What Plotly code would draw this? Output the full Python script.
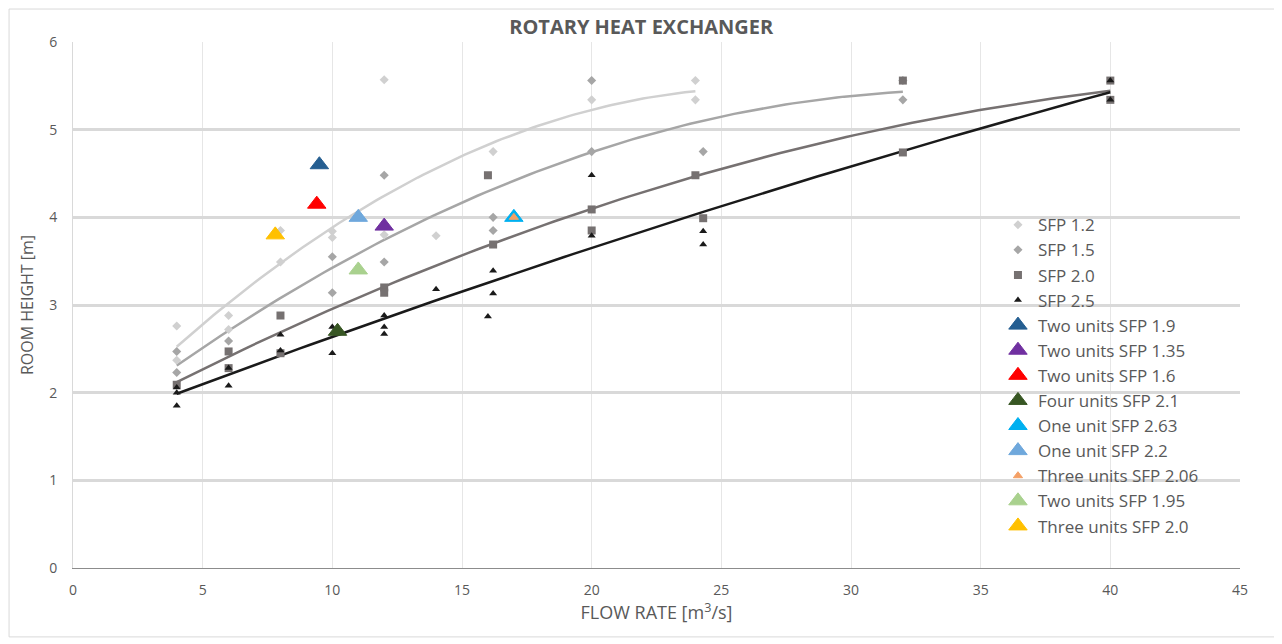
import numpy as np
import plotly.graph_objects as go

# reference series (flow rate m3/s, room height m)
sfp12_x = [4, 4, 6, 6, 8, 8, 10, 10, 12, 12, 14, 16.2, 20, 24, 24]
sfp12_y = [2.76, 2.37, 2.88, 2.72, 3.85, 3.49, 3.84, 3.77, 5.57, 3.8, 3.79, 4.75, 5.34, 5.56, 5.34]

sfp15_x = [4, 4, 6, 10, 10, 12, 12, 16.2, 16.2, 20, 20, 24.3, 32, 32]
sfp15_y = [2.47, 2.23, 2.59, 3.55, 3.14, 4.48, 3.49, 4.0, 3.85, 5.56, 4.75, 4.75, 5.56, 5.34]

sfp20_x = [4, 6, 6, 8, 8, 12, 12, 16, 16.2, 20, 20, 24, 24.3, 32, 32, 40, 40]
sfp20_y = [2.09, 2.47, 2.28, 2.88, 2.45, 3.2, 3.14, 4.48, 3.69, 4.09, 3.85, 4.48, 3.99, 5.56, 4.74, 5.56, 5.34]

sfp25_x = [4, 4, 4, 6, 6, 8, 8, 10, 10, 12, 12, 12, 14, 16, 16.2, 16.2, 20, 20, 24.3, 24.3, 40, 40]
sfp25_y = [2.06, 2.0, 1.85, 2.28, 2.08, 2.66, 2.48, 2.75, 2.45, 2.88, 2.75, 2.67, 3.18, 2.87, 3.39, 3.13,
           4.48, 3.79, 3.84, 3.69, 5.56, 5.34]

units_names = ["Two units SFP 1.9", "Two units SFP 1.35", "Two units SFP 1.6", "Four units SFP 2.1",
               "One unit SFP 2.63", "One unit SFP 2.2", "Three units SFP 2.06", "Two units SFP 1.95",
               "Three units SFP 2.0"]
units_x = [9.5, 12, 9.4, 10.2, 17, 11, 17, 11, 7.8]
units_y = [4.6, 3.9, 4.15, 2.7, 4.0, 4.0, 4.0, 3.4, 3.8]
units_colors = ["#255e91", "#7030a0", "#ff0000", "#375623", "#00b0f0", "#6fa8dc", "#f4a066", "#a9d18e", "#ffc000"]
units_sizes = [16, 16, 16, 16, 16, 16, 8, 16, 16]

FONT = "Open Sans"
TXT = "#595959"

fig = go.Figure()

series = [
    ("SFP 1.2", sfp12_x, sfp12_y, "diamond", "#d0d0d0", 7),
    ("SFP 1.5", sfp15_x, sfp15_y, "diamond", "#a6a6a6", 7),
    ("SFP 2.0", sfp20_x, sfp20_y, "square", "#767171", 8),
    ("SFP 2.5", sfp25_x, sfp25_y, "triangle-up", "#1a1a1a", 7),
]

# polynomial trendlines (order 2) first so the markers sit on top
for name, xs, ys, sym, col, sz in series:
    c = np.polyfit(xs, ys, 2)
    tx = np.linspace(min(xs), max(xs), 100)
    fig.add_trace(go.Scatter(x=tx, y=np.polyval(c, tx), mode="lines",
                             line=dict(color=col, width=2.5), showlegend=False, hoverinfo="skip"))

for name, xs, ys, sym, col, sz in series:
    fig.add_trace(go.Scatter(x=xs, y=ys, mode="markers", name=name,
                             marker=dict(symbol=sym, color=col, size=sz)))

for nm, x, y, col, sz in zip(units_names, units_x, units_y, units_colors, units_sizes):
    fig.add_trace(go.Scatter(x=[x], y=[y], mode="markers", name=nm,
                             marker=dict(symbol="triangle-up", color=col, size=sz,
                                         line=dict(color=col, width=1))))

fig.update_layout(
    width=1274, height=636,
    margin=dict(l=65, r=42, t=34, b=76),
    paper_bgcolor="white", plot_bgcolor="white",
    font=dict(family=FONT, color=TXT, size=14),
    title=dict(text="<b>ROTARY HEAT EXCHANGER</b>", x=0.497, xanchor="center", y=0.970, yanchor="middle",
               font=dict(size=20, color=TXT, family=FONT)),
    legend=dict(x=0.7926, y=0.686, xanchor="left", yanchor="top", bgcolor="rgba(0,0,0,0)",
                font=dict(size=17, color=TXT, family=FONT), tracegroupgap=0, itemwidth=30),
    shapes=[dict(type="rect", xref="paper", yref="paper", x0=-0.0548, x1=1.0308, y0=-0.131, y1=1.0627,
                 line=dict(color="#d9d9d9", width=1), layer="below")],
)
fig.update_xaxes(range=[0, 45], dtick=5, showgrid=True, gridcolor="#e6e6e6", gridwidth=1,
                 zeroline=False, showline=True, linecolor="#8c8c8c", linewidth=1,
                 tickfont=dict(size=14, color=TXT), ticks="", ticklabelstandoff=9,
                 title=dict(text="FLOW RATE [m<sup>3</sup>/s]", font=dict(size=18, color=TXT), standoff=8))
fig.update_yaxes(range=[0, 6], dtick=1, showgrid=True, gridcolor="#d9d9d9", gridwidth=2.5,
                 zeroline=False, showline=True, linecolor="#d9d9d9", linewidth=1,
                 tickfont=dict(size=14, color=TXT), ticks="", ticklabelstandoff=12,
                 title=dict(text="ROOM HEIGHT [m]", font=dict(size=16, color=TXT), standoff=11))

fig.write_html("out.html")
